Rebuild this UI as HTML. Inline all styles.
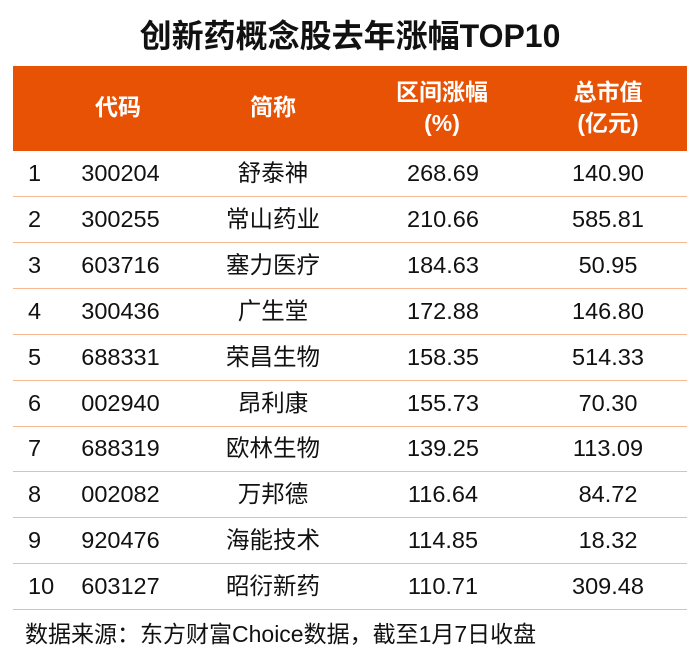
<!DOCTYPE html>
<html><head><meta charset="utf-8"><style>
body{margin:0;width:700px;height:668px;background:#fff;font-family:"Liberation Sans","Noto Sans CJK SC",sans-serif;position:relative;overflow:hidden}
.t{position:absolute;top:16px;left:0;width:700px;text-align:center;font-size:32px;font-weight:bold;color:#111;line-height:40px}
.hd{position:absolute;left:13px;top:66px;width:674px;height:85px;background:#e85205}
.c{position:absolute;text-align:center;color:#fff;font-weight:bold;font-size:23px;line-height:31px}
.r{position:absolute;left:13px;width:674px;height:46px;border-bottom:1.5px solid #f7b98f;box-sizing:border-box;font-size:23.5px;color:#111}
.r span{position:absolute;top:0;line-height:44px;text-align:center}
.f{position:absolute;left:25px;top:618px;font-size:23px;color:#111;line-height:32px}
</style></head><body>
<div class="t">创新药概念股去年涨幅TOP10</div>
<div class="hd">
<div class="c" style="left:60px;width:90px;top:26px">代码</div>
<div class="c" style="left:215px;width:90px;top:26px">简称</div>
<div class="c" style="left:364px;width:130px;top:11px">区间涨幅<br>(%)</div>
<div class="c" style="left:530px;width:130px;top:11px">总市值<br>(亿元)</div>
</div>
<div id="rows"></div>
<div class="f">数据来源：东方财富Choice数据，截至1月7日收盘</div>
<script>
var d=[["1","300204","舒泰神","268.69","140.90"],["2","300255","常山药业","210.66","585.81"],["3","603716","塞力医疗","184.63","50.95"],["4","300436","广生堂","172.88","146.80"],["5","688331","荣昌生物","158.35","514.33"],["6","002940","昂利康","155.73","70.30"],["7","688319","欧林生物","139.25","113.09"],["8","002082","万邦德","116.64","84.72"],["9","920476","海能技术","114.85","18.32"],["10","603127","昭衍新药","110.71","309.48"]];
var h="";d.forEach(function(r,i){h+='<div class="r" style="top:'+(151+i*45.9)+'px"><span style="left:15px;text-align:left">'+r[0]+'</span><span style="left:50px;width:115px">'+r[1]+'</span><span style="left:190px;width:140px">'+r[2]+'</span><span style="left:370px;width:120px">'+r[3]+'</span><span style="left:535px;width:120px">'+r[4]+'</span></div>'});
document.getElementById("rows").innerHTML=h;
</script>
</body></html>
